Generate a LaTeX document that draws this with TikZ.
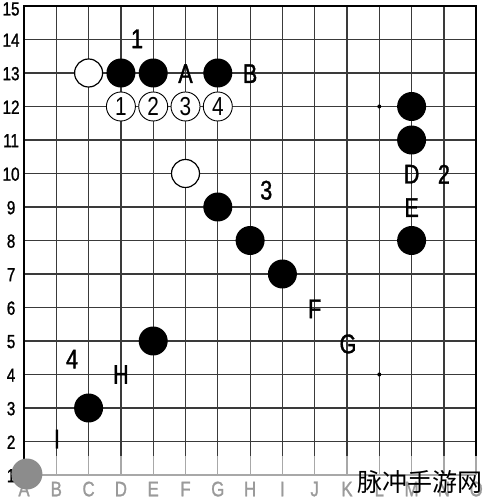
\documentclass[tikz,border=0pt]{standalone}
\usepackage{fontspec}
\setmainfont{Liberation Sans}
\newfontfamily\cond[FakeStretch=0.8,FakeBold=1.2]{Liberation Sans}
\newfontfamily\condl[FakeStretch=0.8]{Liberation Sans}
\newfontfamily\cjk{Noto Sans CJK SC}
\definecolor{gridc}{HTML}{3A3A3A}
\definecolor{fadec}{HTML}{A8A8A8}
\definecolor{labgray}{HTML}{9A9A9A}
\definecolor{stonegray}{HTML}{8C8C8C}
\begin{document}
\begin{tikzpicture}[
  gridline/.style={draw=gridc, line width=1.2pt},
  gridfade/.style={draw=fadec, line width=1.2pt},
  border/.style={draw=black, line width=2pt},
  blackstone/.style={circle, fill=black, minimum size=29pt, inner sep=0pt},
  whitestone/.style={circle, draw=black, line width=1.2pt, fill=white, minimum size=28pt, inner sep=0pt},
  graystone/.style={circle, fill=stonegray, minimum size=31pt, inner sep=0pt},
  circnum/.style={circle, draw=black, line width=0.9pt, fill=white, minimum size=29pt, inner sep=0pt, font=\fontsize{26}{26}\condl},
  lab/.style={inner sep=0pt, font=\fontsize{27}{27}\cond},
  rowlab/.style={inner sep=0pt, font=\fontsize{19}{19}\cond},
  collab/.style={inner sep=0pt, text=labgray, font=\fontsize{21}{21}\cond},
  starpt/.style={circle, fill=black, minimum size=4pt, inner sep=0pt},
]
\useasboundingbox (0pt,0pt) rectangle (483pt,500pt);
\fill[white] (0pt,0pt) rectangle (483pt,500pt);
\begin{scope}[x=32.3pt, y=33.5pt, shift={(24pt,-8.5pt)}]
  % grid
  \foreach \r in {2,...,14} \draw[gridline] (0,\r) -- (14,\r);
  \foreach \c in {1,...,13} {
    \draw[gridline] (\c,15) -- (\c,1.57);
    \draw[gridfade] (\c,1.57) -- (\c,1);
  }
  \draw[gridfade] (0,1) -- (14,1);
  \draw[gridfade, line width=2pt] (14,1.57) -- (14,1);
  \draw[border] (0,1) -- (0,15) -- (14,15) -- (14,1.57);
  % star points
  \node[starpt] (starL12) at (11,12) {};
  \node[starpt] (starL4) at (11,4) {};
  % row labels
  \foreach \r in {1,...,14} \node[rowlab] (row\r) at (-0.4,\r-0.02) {\r};
  \node[rowlab] (row15) at (-0.4,14.91) {15};
  % column labels
  \foreach \l [count=\i from 0] in {A,B,C,D,E,F,G,H,I,J,K,L,M,N,O}
    \node[collab] (col\l) at (\i,0.58) {\l};
  % stones
  \node[whitestone] (wC13) at (2,13) {};
  \node[whitestone] (wF10) at (5,10) {};
  \node[blackstone] (bD13) at (3,13) {};
  \node[blackstone] (bE13) at (4,13) {};
  \node[blackstone] (bG13) at (6,13) {};
  \node[blackstone] (bG9) at (6,9) {};
  \node[blackstone] (bH8) at (7,8) {};
  \node[blackstone] (bI7) at (8,7) {};
  \node[blackstone] (bE5) at (4,5) {};
  \node[blackstone] (bC3) at (2,3) {};
  \node[blackstone] (bM12) at (12,12) {};
  \node[blackstone] (bM11) at (12,11) {};
  \node[blackstone] (bM8) at (12,8) {};
  \node[graystone] (gA1) at (0.09,1.03) {};
  % circled numbers
  \node[circnum] (c1) at (3,12) {1};
  \node[circnum] (c2) at (4,12) {2};
  \node[circnum] (c3) at (5,12) {3};
  \node[circnum] (c4) at (6,12) {4};
  % labels
  \node[lab] (n1) at (3.5,14.02) {1};
  \node[lab] (lA) at (5,12.98) {A};
  \node[lab] (lB) at (7,12.98) {B};
  \node[lab] (n3) at (7.5,9.5) {3};
  \node[lab] (lD) at (12,9.98) {D};
  \node[lab] (n2) at (13,9.98) {2};
  \node[lab] (lE) at (12,8.98) {E};
  \node[lab] (lF) at (9,5.96) {F};
  \node[lab] (lG) at (10.03,4.91) {G};
  \node[lab] (n4) at (1.49,4.46) {4};
  \node[lab] (lH) at (3,4) {H};
  \node[lab] (lI) at (1.02,2.07) {I};
\end{scope}
\node[inner sep=0pt, font=\fontsize{25}{25}\cjk] (wm) at (420pt,18pt) {脉冲手游网};
\end{tikzpicture}
\end{document}
